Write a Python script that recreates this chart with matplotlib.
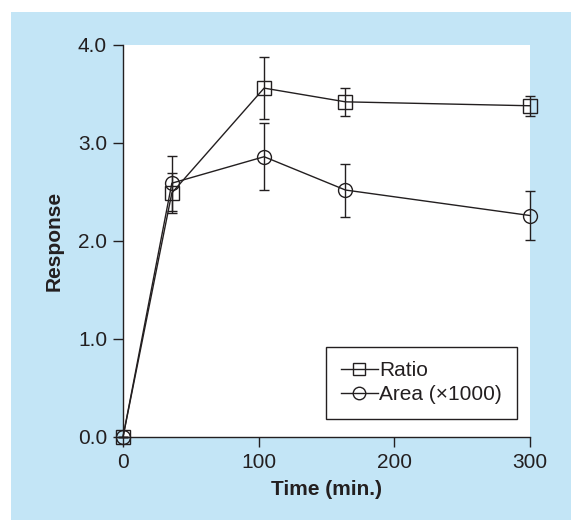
import matplotlib
matplotlib.use('Agg')
import matplotlib.pyplot as plt
from matplotlib.patches import Rectangle

# Data
time = [0, 36, 104, 164, 300]
ratio = [0.0, 2.49, 3.56, 3.42, 3.38]
ratio_err = [0.0, 0.20, 0.32, 0.14, 0.10]
area = [0.0, 2.59, 2.86, 2.52, 2.26]
area_err = [0.0, 0.28, 0.34, 0.27, 0.25]

xticks = [0, 100, 200, 300]
yticks = [0.0, 1.0, 2.0, 3.0, 4.0]

plt.rcParams['font.family'] = ['Liberation Sans', 'DejaVu Sans']
ink = '#231f20'

fig = plt.figure(figsize=(5.71, 5.2), dpi=100, facecolor='white')
# light blue panel behind the chart
fig.patches.append(Rectangle((11/571, 0), 1 - 11/571, 508/520,
                             transform=fig.transFigure, facecolor='#c3e5f6',
                             edgecolor='none', zorder=-10))

ax = fig.add_axes([123/571, 83/520, 407/571, 392/520], facecolor='white')

eb1 = ax.errorbar(time, ratio, yerr=ratio_err, color=ink, linewidth=1.0,
                  marker='s', markersize=10, markerfacecolor='none',
                  markeredgecolor=ink, markeredgewidth=1.0,
                  ecolor=ink, elinewidth=1.0, capsize=3.8, capthick=1.0,
                  label='Ratio', clip_on=False, zorder=3)
eb2 = ax.errorbar(time, area, yerr=area_err, color=ink, linewidth=1.0,
                  marker='o', markersize=10, markerfacecolor='none',
                  markeredgecolor=ink, markeredgewidth=1.0,
                  ecolor=ink, elinewidth=1.0, capsize=3.8, capthick=1.0,
                  label='Area (\u00d71000)', clip_on=False, zorder=3)

ax.set_xlim(0, 300)
ax.set_ylim(0, 4.0)
ax.set_xticks(xticks)
ax.set_xticklabels(['%d' % t for t in xticks])
ax.set_yticks(yticks)
ax.set_yticklabels(['%.1f' % t for t in yticks])

for side in ['top', 'right']:
    ax.spines[side].set_visible(False)
for side in ['left', 'bottom']:
    ax.spines[side].set_color(ink)
    ax.spines[side].set_linewidth(1.0)

ax.tick_params(axis='both', direction='out', length=7.5, width=1.0,
               color=ink, labelcolor=ink, labelsize=15, pad=4)

ax.set_xlabel('Time (min.)', fontsize=15, fontweight='bold', color=ink,
              labelpad=6)
ax.set_ylabel('Response', fontsize=15, fontweight='bold', color=ink,
              labelpad=10)

# legend shows only line + marker, no error bars
leg = ax.legend(handles=[eb1.lines[0], eb2.lines[0]],
                labels=['Ratio', 'Area (\u00d71000)'],
                loc='lower right', bbox_to_anchor=(0.967, 0.046),
                borderaxespad=0, fontsize=15, fancybox=False,
                edgecolor=ink, framealpha=1, handlelength=1.8,
                handletextpad=0.05, labelspacing=0.25, borderpad=0.7,
                markerscale=0.9)
leg.get_frame().set_linewidth(1.0)
for t in leg.get_texts():
    t.set_color(ink)

fig.savefig('out.png', dpi=100, facecolor=fig.get_facecolor())
